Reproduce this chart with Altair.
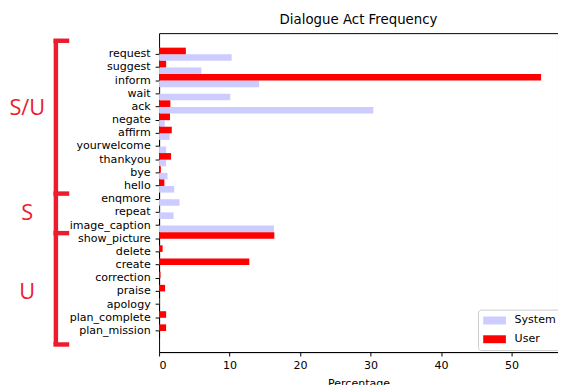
import altair as alt
import pandas as pd

acts = ["request", "suggest", "inform", "wait", "ack", "negate", "affirm",
        "yourwelcome", "thankyou", "bye", "hello", "enqmore", "repeat",
        "image_caption", "show_picture", "delete", "create", "correction",
        "praise", "apology", "plan_complete", "plan_mission"]
system_pct = [10.3, 6.0, 14.2, 10.1, 30.4, 0.8, 1.5, 1.0, 1.0, 1.2, 2.15,
              2.9, 2.05, 16.3, 0, 0, 0, 0, 0, 0, 0, 0]
user_pct = [3.8, 1.0, 54.2, 0.1, 1.6, 1.55, 1.8, 0, 1.7, 0.25, 0.75,
            0, 0.1, 0, 16.35, 0.5, 12.8, 0.2, 0.85, 0.1, 1.0, 1.0]
series = ["System", "User"]
series_colors = ["#ccccff", "#ff0000"]

group_labels = ["S/U", "S", "U"]
group_label_rows = ["ack", "repeat", "praise"]
group_inner_bounds = ["enqmore", "show_picture"]
bracket_color = "#ec1c2e"

rows = []
for a, s, u in zip(acts, system_pct, user_pct):
    rows.append({"act": a, "series": "System", "pct": s})
    rows.append({"act": a, "series": "User", "pct": u})
df = pd.DataFrame(rows)

yscale = alt.Scale(domain=acts, range=[14.7, 308.3], paddingInner=0, paddingOuter=0)

bars = alt.Chart(df).mark_bar().encode(
    y=alt.Y("act:N", scale=yscale, title=None,
            axis=alt.Axis(title=None, labelFont="DejaVu Sans", labelFontSize=11.2,
                          labelColor="black", tickColor="black", domainColor="black",
                          tickSize=4, labelPadding=5, grid=False)),
    yOffset=alt.YOffset("series:N", sort=["User", "System"],
                        scale=alt.Scale(paddingInner=0, paddingOuter=0)),
    x=alt.X("pct:Q", scale=alt.Scale(domain=[0, 56.6], nice=False),
            axis=alt.Axis(values=[0, 10, 20, 30, 40, 50], title="Percentage",
                          labelFont="DejaVu Sans", labelFontSize=11.2, labelColor="black",
                          tickColor="black", domainColor="black", tickSize=4,
                          labelPadding=4, grid=False, titleFont="DejaVu Sans",
                          titleFontSize=11.2, titleFontWeight="normal",
                          titleColor="black", titlePadding=7)),
    color=alt.Color("series:N",
                    scale=alt.Scale(domain=series, range=series_colors),
                    legend=alt.Legend(title=None, orient="none", legendX=323, legendY=280,
                                      fillColor="white", strokeColor="#cccccc",
                                      cornerRadius=3, padding=5,
                                      labelFont="DejaVu Sans", labelFontSize=11.2,
                                      labelColor="black",
                                      symbolType="M-1,-0.7L3,-0.7L3,0.7L-1,0.7Z",
                                      symbolSize=132, symbolStrokeWidth=0,
                                      symbolOpacity=1, labelOffset=20, rowPadding=7)),
)

vline_df = pd.DataFrame({"top": [acts[0]], "bottom": [acts[-1]]})
vline = alt.Chart(vline_df).mark_rule(
    color=bracket_color, strokeWidth=4.5, yOffset=-7, y2Offset=7
).encode(
    x=alt.value(-104.5),
    y=alt.Y("top:N", scale=yscale, bandPosition=0, title=None),
    y2=alt.Y2("bottom:N", bandPosition=1),
)

top_arm = alt.Chart(pd.DataFrame({"b": [acts[0]]})).mark_rule(
    color=bracket_color, strokeWidth=4.5, yOffset=-7
).encode(
    x=alt.value(-107), x2=alt.value(-91),
    y=alt.Y("b:N", scale=yscale, bandPosition=0, title=None),
)
inner_arms = alt.Chart(pd.DataFrame({"b": group_inner_bounds})).mark_rule(
    color=bracket_color, strokeWidth=4.5, yOffset=1
).encode(
    x=alt.value(-107), x2=alt.value(-91),
    y=alt.Y("b:N", scale=yscale, bandPosition=0, title=None),
)
bottom_arm = alt.Chart(pd.DataFrame({"b": [acts[-1]]})).mark_rule(
    color=bracket_color, strokeWidth=4.5, yOffset=7
).encode(
    x=alt.value(-107), x2=alt.value(-91),
    y=alt.Y("b:N", scale=yscale, bandPosition=1, title=None),
)

labels = alt.Chart(pd.DataFrame({"label": group_labels, "row": group_label_rows})).mark_text(
    font="Open Sans", fontSize=22, color=bracket_color, align="center", baseline="middle",
    dy=1
).encode(
    x=alt.value(-133.5),
    y=alt.Y("row:N", scale=yscale, title=None),
    text="label:N",
)

chart = alt.layer(bars, vline, top_arm, inner_arms, bottom_arm, labels).properties(
    width=404, height=323,
    title=alt.TitleParams("Dialogue Act Frequency", font="DejaVu Sans", fontSize=13.5,
                          fontWeight="normal", color="black", offset=7),
    padding={"left": 153, "top": 23, "right": 0, "bottom": 40},
    autosize=alt.AutoSizeParams(type="none"),
).configure_view(stroke="black", strokeWidth=1)

chart.save("out.html", embed_options={"renderer": "svg", "actions": False})
